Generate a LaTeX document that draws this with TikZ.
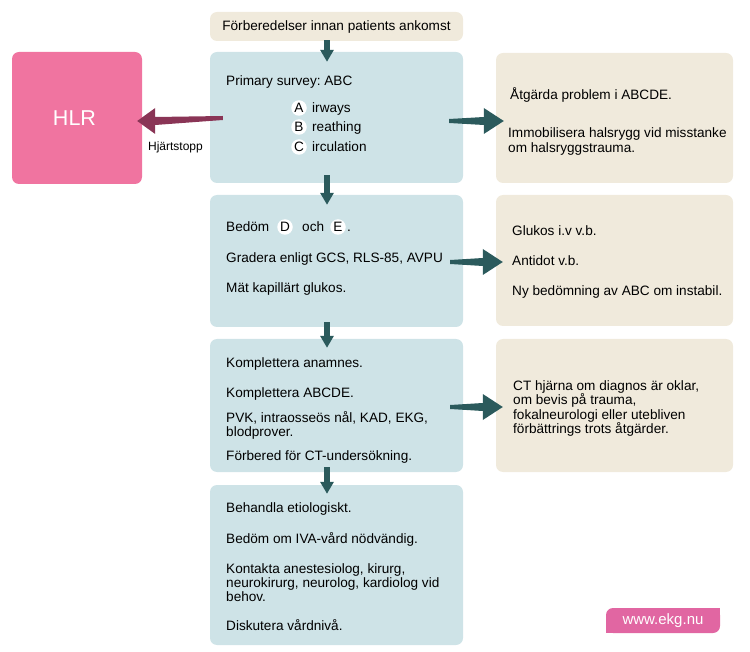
\documentclass[tikz,border=0pt]{standalone}
\usepackage{fontspec}
\setmainfont{Liberation Sans}
\usetikzlibrary{arrows.meta,calc}
\frenchspacing

\definecolor{prepbeige}{HTML}{F0EADC}
\definecolor{stepblue}{HTML}{CEE3E7}
\definecolor{hlrpink}{HTML}{F074A0}
\definecolor{webpink}{HTML}{E166A2}
\definecolor{arrteal}{HTML}{2B5A5C}
\definecolor{arrmaroon}{HTML}{8A3556}

% tapered arrow: colour, tail, tip, head length (signed)
\newcommand{\taperarrow}[4]{%
  \fill[#1] ($(#2)+(0,-2)$) -- ($(#3)+(#4,-4)$) -- ($(#3)+(#4,-13)$) -- (#3)
    -- ($(#3)+(#4,13)$) -- ($(#3)+(#4,4)$) -- ($(#2)+(0,2)$) -- cycle;}

\begin{document}
\begin{tikzpicture}[x=1pt,y=-1pt,
  box/.style={rectangle,rounded corners=7pt,inner sep=0pt,minimum width=253pt},
  sidebox/.style={box,fill=prepbeige,minimum width=237pt},
  txt/.style={anchor=base west,inner sep=0pt,font=\fontsize{13.6}{14.5}\selectfont},
  letter/.style={circle,fill=white,inner sep=0pt,minimum size=15.5pt,font=\fontsize{13.6}{14.5}\selectfont},
  down/.style={draw=arrteal,line width=6pt,-{Triangle[length=12pt,width=13pt]}}]
\useasboundingbox (0,0) rectangle (750,652);

% boxes
\node[box,fill=prepbeige,minimum height=29pt] (prep) at (336.5,26.5) {};
\node[box,fill=stepblue,minimum height=131pt] (abc) at (336.5,117.5) {};
\node[box,fill=stepblue,minimum height=132pt] (de) at (336.5,261) {};
\node[box,fill=stepblue,minimum height=133pt] (compl) at (336.5,405.5) {};
\node[box,fill=stepblue,minimum height=160pt] (treat) at (336.5,565) {};
\node[box,fill=hlrpink,minimum width=130pt,minimum height=132pt] (hlr) at (77,118) {};
\node[sidebox,minimum height=130pt] (act) at (614.5,118) {};
\node[sidebox,minimum height=131pt] (gluc) at (614.5,260.5) {};
\node[sidebox,minimum height=133pt] (ct) at (614.5,405.5) {};
\node[box,fill=webpink,rounded corners=7pt,minimum width=114pt,minimum height=25pt] (web) at (663,620.5) {};
\fill[webpink] (web.north east) rectangle ++(-10,10);
\fill[webpink] (web.south west) rectangle ++(10,-10);

% down arrows
\coordinate (spine) at (327,0);
\draw[down,shorten <=-1pt,shorten >=-10pt] (prep.south -| spine) -- (abc.north -| spine);
\draw[down,shorten <=-8pt,shorten >=-10pt] (abc.south -| spine) -- (de.north -| spine);
\draw[down,shorten <=-5pt,shorten >=-9pt] (de.south -| spine) -- (compl.north -| spine);
\draw[down,shorten <=-5pt,shorten >=-9pt] (compl.south -| spine) -- (treat.north -| spine);

% side arrows
\coordinate (hlrtail) at ($(abc.west)+(13,0.5)$);
\coordinate (hlrtip) at ($(hlr.east)+(-5,3)$);
\coordinate (acttail) at ($(abc.east)+(-14,3.5)$);
\coordinate (acttip) at ($(act.west)+(8,3)$);
\coordinate (gluctail) at ($(de.east)+(-13,1)$);
\coordinate (gluctip) at ($(gluc.west)+(7,1.5)$);
\coordinate (cttail) at ($(compl.east)+(-13,1.5)$);
\coordinate (cttip) at ($(ct.west)+(7,1.5)$);
\taperarrow{arrmaroon}{hlrtail}{hlrtip}{18}
\taperarrow{arrteal}{acttail}{acttip}{-20}
\taperarrow{arrteal}{gluctail}{gluctip}{-20}
\taperarrow{arrteal}{cttail}{cttip}{-20}

% texts
\node[font=\fontsize{13.6}{14.5}\selectfont] (preptxt) at (prep.center) {Förberedelser innan patients ankomst};
\node[text=white,font=\fontsize{21.5}{24}\selectfont] (hlrtxt) at (74.5,118) {HLR};
\node[font=\fontsize{12}{14}\selectfont] (stop) at (175.5,147) {Hjärtstopp};
\node[text=white,font=\fontsize{15}{17}\selectfont] (webtxt) at (663,621) {www.ekg.nu};

\node[txt] (abc1) at (226,86) {Primary survey: ABC};
\node[letter] (la) at (299,108) {A};
\node[letter] (lb) at (299,127) {B};
\node[letter] (lc) at (299,147) {C};
\node[txt] (abc2) at (312,113) {irways};
\node[txt] (abc3) at (312,132) {reathing};
\node[txt] (abc4) at (312,152) {irculation};

\node[txt] (de1) at (226,232) {Bedöm};
\node[letter] (ld) at (285,227) {D};
\node[txt] (de2) at (302,232) {och};
\node[letter] (le) at (338,227) {E};
\node[txt] (de3) at (347,232) {.};
\node[txt] (de4) at (226,263) {Gradera enligt GCS, RLS-85, AVPU};
\node[txt] (de5) at (226,293) {Mät kapillärt glukos.};

\node[txt] (co1) at (226,368) {Komplettera anamnes.};
\node[txt] (co2) at (226,397) {Komplettera ABCDE.};
\node[txt] (co3) at (226,422) {PVK, intraosseös nål, KAD, EKG,};
\node[txt] (co4) at (226,436) {blodprover.};
\node[txt] (co5) at (226,460) {Förbered för CT-undersökning.};

\node[txt] (tr1) at (226,512) {Behandla etiologiskt.};
\node[txt] (tr2) at (226,543) {Bedöm om IVA-vård nödvändig.};
\node[txt] (tr3) at (226,573) {Kontakta anestesiolog, kirurg,};
\node[txt] (tr4) at (226,587) {neurokirurg, neurolog, kardiolog vid};
\node[txt] (tr5) at (226,601) {behov.};
\node[txt] (tr6) at (226,630) {Diskutera vårdnivå.};

\node[txt] (ac1) at (510,100) {Åtgärda problem i ABCDE.};
\node[txt] (ac2) at (508,138) {Immobilisera halsrygg vid misstanke};
\node[txt] (ac3) at (508,153) {om halsryggstrauma.};

\node[txt] (gl1) at (512,236) {Glukos i.v v.b.};
\node[txt] (gl2) at (512,266) {Antidot v.b.};
\node[txt] (gl3) at (512,296) {Ny bedömning av ABC om instabil.};

\node[txt] (ct1) at (513,390) {CT hjärna om diagnos är oklar,};
\node[txt] (ct2) at (513,404.5) {om bevis på trauma,};
\node[txt] (ct3) at (513,419) {fokalneurologi eller utebliven};
\node[txt] (ct4) at (513,433.5) {förbättrings trots åtgärder.};
\end{tikzpicture}
\end{document}
